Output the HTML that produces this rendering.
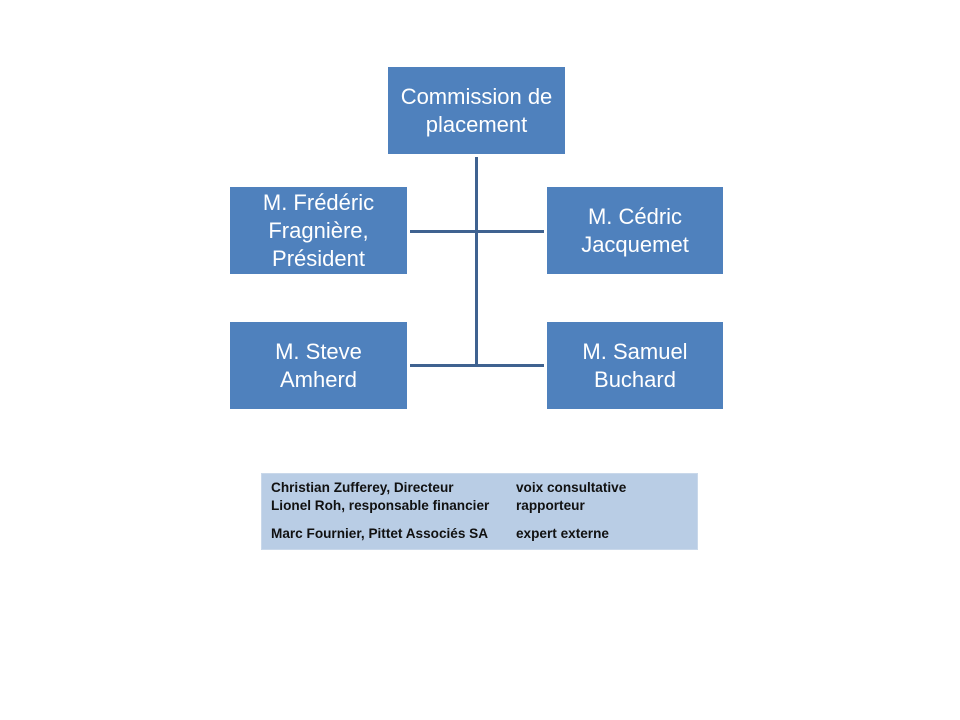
<!DOCTYPE html>
<html>
<head>
<meta charset="utf-8">
<style>
  html,body{margin:0;padding:0;background:#fff;}
  body{width:960px;height:720px;position:relative;overflow:hidden;font-family:"Liberation Sans",sans-serif;}
  .box{position:absolute;background:#4f81bd;color:#fff;display:flex;align-items:center;justify-content:center;text-align:center;font-size:22px;line-height:28px;}
  .ln{position:absolute;background:#3f6290;}
  .leg{position:absolute;left:261px;top:473px;width:437px;height:77px;background:#b9cde5;border:1px solid #c9d8ea;box-sizing:border-box;}
  .t{position:absolute;font-size:13.6px;font-weight:bold;color:#111;white-space:nowrap;}
</style>
</head>
<body>
  <div class="box" style="left:388px;top:67px;width:177px;height:87px;">Commission de<br>placement</div>
  <div class="box" style="left:230px;top:187px;width:177px;height:87px;">M. Frédéric<br>Fragnière,<br>Président</div>
  <div class="box" style="left:547px;top:187px;width:176px;height:87px;">M. Cédric<br>Jacquemet</div>
  <div class="box" style="left:230px;top:322px;width:177px;height:87px;">M. Steve<br>Amherd</div>
  <div class="box" style="left:547px;top:322px;width:176px;height:87px;">M. Samuel<br>Buchard</div>

  <div class="ln" style="left:475px;top:157px;width:3px;height:209px;"></div>
  <div class="ln" style="left:410px;top:230px;width:134px;height:3px;"></div>
  <div class="ln" style="left:410px;top:364px;width:134px;height:3px;"></div>

  <div class="leg"></div>
  <div class="t" style="left:271px;top:480px;">Christian Zufferey, Directeur</div>
  <div class="t" style="left:516px;top:480px;">voix consultative</div>
  <div class="t" style="left:271px;top:498px;">Lionel Roh, responsable financier</div>
  <div class="t" style="left:516px;top:498px;">rapporteur</div>
  <div class="t" style="left:271px;top:526px;">Marc Fournier, Pittet Associés SA</div>
  <div class="t" style="left:516px;top:526px;">expert externe</div>
</body>
</html>
